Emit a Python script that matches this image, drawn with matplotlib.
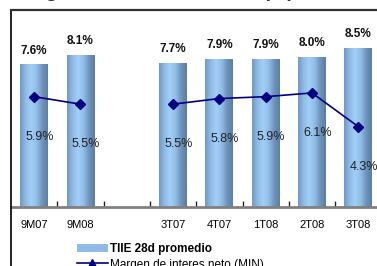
import numpy as np
import matplotlib
matplotlib.use("Agg")
import matplotlib.pyplot as plt
from matplotlib.colors import LinearSegmentedColormap
from matplotlib.lines import Line2D
from matplotlib.patches import Patch

plt.rcParams['font.family'] = ['Liberation Sans', 'DejaVu Sans']

categories = ['9M07', '9M08', '', '3T07', '4T07', '1T08', '2T08', '3T08']
tiie = [7.6, 8.1, None, 7.7, 7.9, 7.9, 8.0, 8.5]
min_vals = [5.9, 5.5, None, 5.5, 5.8, 5.9, 6.1, 4.3]

W, H = 377, 266
fig = plt.figure(figsize=(W / 100, H / 100), dpi=100)

# axes in pixel terms: left edge at x=11, baseline at y=207, 46.3 px per slot
left, base, top = 11, 207, 10
slot = 46.3
ax = fig.add_axes([left / W, (H - base) / H, len(categories) * slot / W, (base - top) / H])
ax.set_facecolor('none')

x = np.arange(len(categories))
bar_x = [i for i, v in zip(x, tiie) if v is not None]
bar_h = [v for v in tiie if v is not None]

cmap = LinearSegmentedColormap.from_list(
    'bar', ['#7199c4', '#8fbbe6', '#a2cff7', '#90bde8', '#6f93ba', '#5b7ea4'])
grad = np.linspace(0, 1, 64).reshape(1, -1)

bars = ax.bar(bar_x, bar_h, width=0.6, color='none', zorder=2)
for b in bars:
    ax.imshow(grad, cmap=cmap, aspect='auto', zorder=2,
              extent=[b.get_x(), b.get_x() + b.get_width(), 0, b.get_height()])

line_y = np.array([np.nan if v is None else v for v in min_vals])
ax.plot(x, line_y, color='#000080', lw=1.2, marker='D', ms=5, zorder=3)

for xi, v in zip(bar_x, bar_h):
    ax.annotate(f'{v:.1f}%', (xi, v), xytext=(0, 6), textcoords='offset points',
                ha='center', va='bottom', fontsize=8.5, fontweight='bold', color='#111111')
for xi, v in zip(x, min_vals):
    if v is None:
        continue
    ax.annotate(f'{v:.1f}%', (xi, v), xytext=(4, -29), textcoords='offset points',
                ha='center', va='center', fontsize=9, color='#222222')

ax.set_xlim(-0.5, len(categories) - 0.5)
ax.set_ylim(0, (base - top) / 18.7)

for s in ['left', 'right', 'top']:
    ax.spines[s].set_visible(False)
ax.spines['bottom'].set_color('#808080')
ax.spines['bottom'].set_linewidth(2)
ax.set_yticks([])
ax.set_xticks(x)
ax.set_xticklabels(categories, fontsize=8)
ax.set_xticks(np.arange(0.5, len(categories) - 0.5), minor=True)
ax.tick_params(axis='x', which='major', length=0, pad=9)
ax.tick_params(axis='x', which='minor', direction='in', length=4, width=1, color='#222222')

# outer frame of the chart area
fig.add_artist(Line2D([left / W, left / W], [0, (H - top) / H], color='#111111', lw=1.3))
fig.add_artist(Line2D([left / W, 1], [(H - top) / H, (H - top) / H], color='#333333', lw=1.6))

# title, mostly cut off above the picture
fig.text(left / W, (H + 3) / H, 'Margen financiero vs.  TIIE (%)', fontsize=14,
         fontweight='bold', color='#333333', ha='left', va='baseline')

handles = [Patch(facecolor='#8fbbe6', edgecolor='none'),
           Line2D([], [], color='#000080', lw=1.2, marker='^', ms=6)]
leg = fig.legend(handles, ['TIIE 28d promedio', 'Margen de interes neto (MIN)'],
                 loc='upper left', bbox_to_anchor=(77 / W, 1 - 243 / H), frameon=False,
                 fontsize=8.5, handlelength=2.6, handleheight=0.7, handletextpad=0.2,
                 labelspacing=0.3, borderpad=0, borderaxespad=0)
leg.get_texts()[0].set_fontweight('bold')

fig.savefig('out.png', dpi=100)
